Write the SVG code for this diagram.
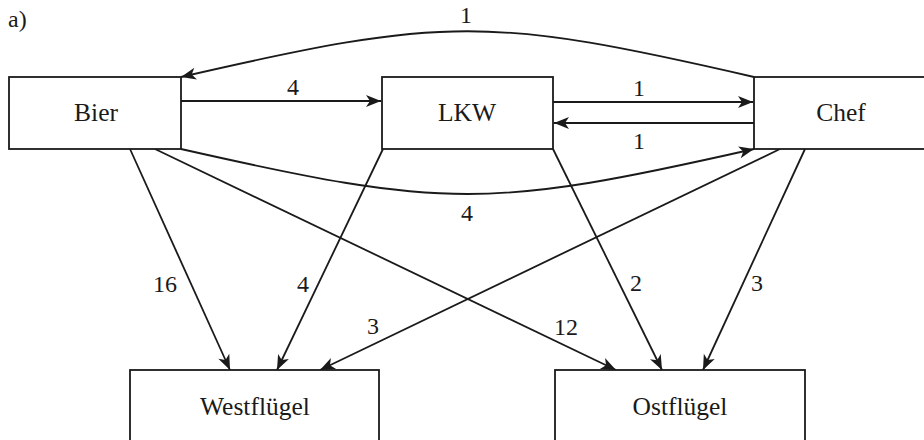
<svg xmlns="http://www.w3.org/2000/svg" width="924" height="440" viewBox="0 0 924 440">
  <defs>
    <marker id="arrow" viewBox="-16 -8 18 16" markerWidth="18" markerHeight="16" refX="0" refY="0" orient="auto" markerUnits="userSpaceOnUse">
      <path d="M0,0 L-15,-6 L-11,0 L-15,6 Z" fill="#1a1a1a"/>
    </marker>
    <style>
      .box { fill: #ffffff; stroke: #1a1a1a; stroke-width: 1.8; }
      .edge { fill: none; stroke: #1a1a1a; stroke-width: 1.8; marker-end: url(#arrow); }
      text { font-family: "Liberation Serif", "Times New Roman", serif; font-size: 24px; fill: #1a1a1a; }
      .name { text-anchor: middle; font-size: 25.5px; }
      .lbl { text-anchor: middle; }
    </style>
  </defs>

  <rect width="924" height="440" fill="#ffffff"/>
  <text x="8" y="27">a)</text>

  <!-- connectors -->
  <g id="connectors">
    <path class="edge" d="M181,101 L381,101"/>
    <path class="edge" d="M553,102 L753,102"/>
    <path class="edge" d="M754,123 L554,123"/>
    <path class="edge" d="M754,77 C489,16 446,16 181,77"/>
    <path class="edge" d="M181,149 C446,209 489,209 754,149"/>
    <path class="edge" d="M130,149 L230,370"/>
    <path class="edge" d="M155,149 L616,370"/>
    <path class="edge" d="M383,149 L277,370"/>
    <path class="edge" d="M553,149 L662,370"/>
    <path class="edge" d="M780,149 L320,370"/>
    <path class="edge" d="M805,149 L703,370"/>

    <text class="lbl" x="293" y="95">4</text>
    <text class="lbl" x="639" y="96">1</text>
    <text class="lbl" x="639" y="149">1</text>
    <text class="lbl" x="466" y="23">1</text>
    <text class="lbl" x="467" y="221">4</text>
    <text class="lbl" x="165" y="292">16</text>
    <text class="lbl" x="303" y="292">4</text>
    <text class="lbl" x="373" y="334">3</text>
    <text class="lbl" x="566" y="335">12</text>
    <text class="lbl" x="636" y="291">2</text>
    <text class="lbl" x="757" y="291">3</text>
  </g>

  <g id="bier">
    <rect class="box" x="9" y="77" width="172" height="72"/>
    <text class="name" x="96" y="121">Bier</text>
  </g>
  <g id="lkw">
    <rect class="box" x="382" y="77" width="171" height="72"/>
    <text class="name" x="467" y="121">LKW</text>
  </g>
  <g id="chef">
    <rect class="box" x="754" y="77" width="172" height="72"/>
    <text class="name" x="841" y="121">Chef</text>
  </g>
  <g id="westfluegel">
    <rect class="box" x="130" y="370" width="249" height="80"/>
    <text class="name" x="255" y="415">Westflügel</text>
  </g>
  <g id="ostfluegel">
    <rect class="box" x="555" y="370" width="250" height="80"/>
    <text class="name" x="680" y="415">Ostflügel</text>
  </g>
</svg>
